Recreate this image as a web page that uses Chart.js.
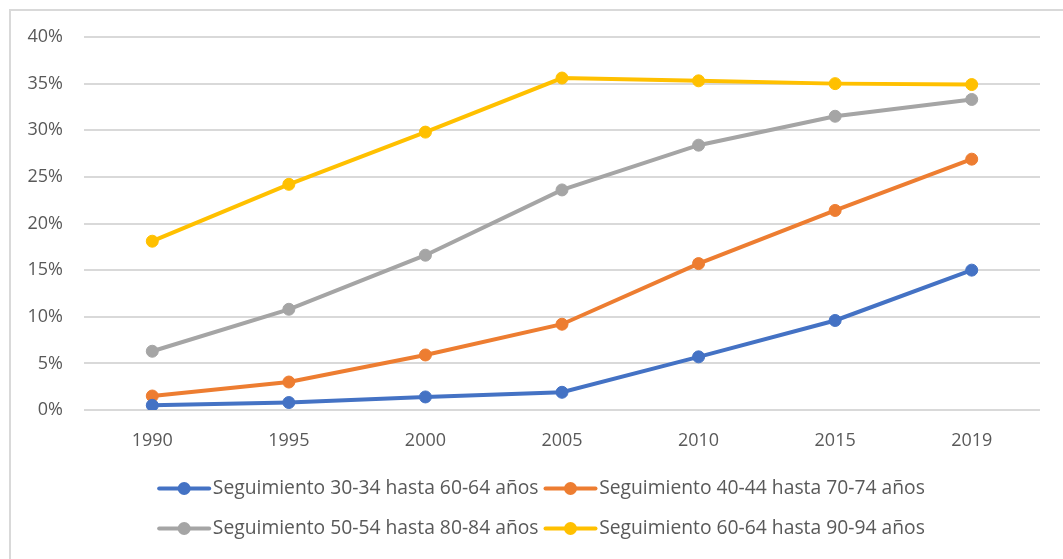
<!DOCTYPE html>
<html>
<head>
<meta charset="utf-8">
<script src="https://cdn.jsdelivr.net/npm/chart.js@4.4.1/dist/chart.umd.min.js"></script>
<style>
  body { margin: 0; background: #fff; }
  #frame {
    position: absolute; left: 9px; top: 9px;
    width: 1052px; height: 548px;
    border-top: 2px solid #d9d9d9; border-left: 2px solid #d9d9d9;
  }
  #chart { display: block; }
</style>
</head>
<body>
<div id="frame"><canvas id="chart" width="1052" height="548"></canvas></div>
<script>
// Years on the x axis
const years = ["1990", "1995", "2000", "2005", "2010", "2015", "2019"];

// Values in percent
const seg3034 = [0.5, 0.8, 1.4, 1.9, 5.7, 9.6, 15.0];
const seg4044 = [1.5, 3.0, 5.9, 9.2, 15.7, 21.4, 26.9];
const seg5054 = [6.3, 10.8, 16.6, 23.6, 28.4, 31.5, 33.3];
const seg6064 = [18.1, 24.2, 29.8, 35.6, 35.3, 35.0, 34.9];

const seriesNames = [
  "Seguimiento 30-34 hasta 60-64 años",
  "Seguimiento 40-44 hasta 70-74 años",
  "Seguimiento 50-54 hasta 80-84 años",
  "Seguimiento 60-64 hasta 90-94 años",
];
const seriesColors = ["#4472C4", "#ED7D31", "#A5A5A5", "#FFC000"];

const yTicks = [0, 5, 10, 15, 20, 25, 30, 35, 40];

const FONT = "'Open Sans', sans-serif";
const TEXT = "#595959";

const makeSet = (i, data) => ({
  label: seriesNames[i],
  data: data,
  borderColor: seriesColors[i],
  backgroundColor: seriesColors[i],
  pointBackgroundColor: seriesColors[i],
  pointBorderColor: seriesColors[i],
  borderWidth: 4,
  pointRadius: 6,
  pointBorderWidth: 1,
  tension: 0,
  fill: false,
});

// nudge the legend a little right so it sits where the original one does
const legendShift = {
  id: "legendShift",
  afterLayout(chart) {
    chart.legend.left += 8;
    chart.legend.right += 8;
  },
};

// legend marker: a line with a dot in the middle, drawn into the box the legend reserves
const legendMarkers = {
  id: "legendMarkers",
  afterDraw(chart) {
    const legend = chart.legend;
    if (!legend || !legend.legendHitBoxes) return;
    const ctx = chart.ctx;
    const boxW = legend.options.labels.boxWidth;
    legend.legendHitBoxes.forEach((hb, i) => {
      const color = seriesColors[i];
      const cy = hb.top + hb.height / 2;
      ctx.save();
      ctx.strokeStyle = color;
      ctx.fillStyle = color;
      ctx.lineWidth = 4;
      ctx.lineCap = "round";
      ctx.beginPath();
      ctx.moveTo(hb.left + 2, cy);
      ctx.lineTo(hb.left + boxW + 6, cy);
      ctx.stroke();
      ctx.beginPath();
      ctx.arc(hb.left + (boxW + 8) / 2, cy, 6.5, 0, Math.PI * 2);
      ctx.fill();
      ctx.restore();
    });
  },
};

const ctx = document.getElementById("chart").getContext("2d");
new Chart(ctx, {
  type: "line",
  data: {
    labels: years,
    datasets: [
      makeSet(0, seg3034),
      makeSet(1, seg4044),
      makeSet(2, seg5054),
      makeSet(3, seg6064),
    ],
  },
  options: {
    responsive: false,
    animation: false,
    layout: { padding: { left: 15, right: 23, top: 26, bottom: 3 } },
    plugins: {
      tooltip: { enabled: false },
      legend: {
        position: "bottom",
        labels: {
          font: { family: FONT, size: 19.3 },
          color: TEXT,
          boxWidth: 46,
          boxHeight: 35,
          padding: 5,
          generateLabels(chart) {
            return Chart.defaults.plugins.legend.labels.generateLabels(chart).map((it) => ({
              ...it,
              fillStyle: "rgba(0,0,0,0)",
              strokeStyle: "rgba(0,0,0,0)",
              lineWidth: 0,
            }));
          },
        },
      },
    },
    scales: {
      x: {
        offset: true,
        grid: { display: false },
        border: { display: false },
        ticks: { font: { family: FONT, size: 18 }, color: TEXT, padding: 12 },
        afterFit(scale) { scale.height = 56; },
      },
      y: {
        min: 0,
        max: 40,
        afterBuildTicks(scale) { scale.ticks = yTicks.map((v) => ({ value: v })); },
        afterFit(scale) {
          scale.width = 58;
          scale.paddingTop = 0;
          scale.paddingBottom = 0;
        },
        grid: { color: "#d9d9d9", lineWidth: 2, drawTicks: false },
        border: { display: false },
        ticks: {
          font: { family: FONT, size: 18 },
          color: TEXT,
          padding: 21,
          callback: (v) => v + "%",
        },
      },
    },
  },
  plugins: [legendShift, legendMarkers],
});
</script>
</body>
</html>
